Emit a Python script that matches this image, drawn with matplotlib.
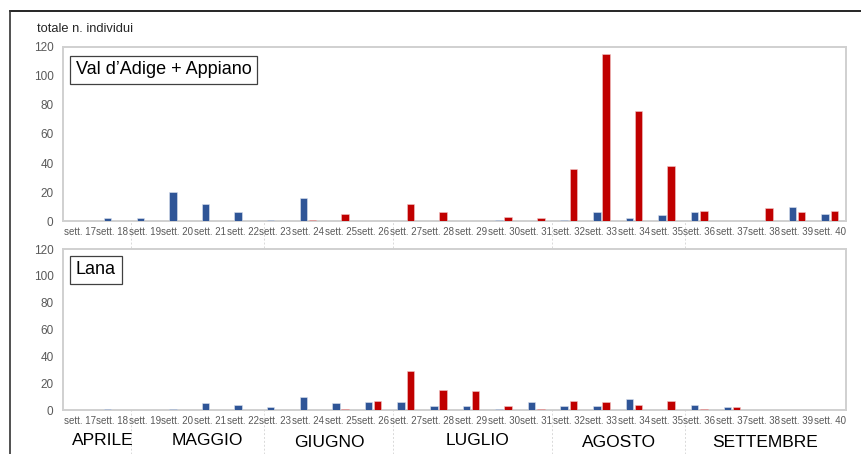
import matplotlib.pyplot as plt
import matplotlib.transforms as mtransforms
import numpy as np

plt.rcParams['font.family'] = ['Liberation Sans', 'DejaVu Sans']

# weeks 17..40
weeks = list(range(17, 41))
week_labels = ["sett. %d" % w for w in weeks]

# Val d'Adige + Appiano
top_blue = [0, 2, 2, 20, 12, 6, 1, 16, 0, 0, 0, 0, 0, 1, 0, 1, 6, 2, 4, 6, 0, 0, 10, 5]
top_red = [0, 0, 0, 0, 0, 0, 0, 1, 5, 0, 12, 6, 0, 3, 2, 36, 115, 76, 38, 7, 0, 9, 6, 7]

# Lana
bot_blue = [0, 1, 0, 1, 5, 4, 2, 10, 5, 6, 6, 3, 3, 1, 6, 3, 3, 8, 0, 4, 2, 0, 0, 0]
bot_red = [0, 0, 0, 0, 0, 0, 0, 0, 1, 7, 29, 15, 14, 3, 1, 7, 6, 4, 7, 1, 2, 0, 0, 0]

months = ["APRILE", "MAGGIO", "GIUGNO", "LUGLIO", "AGOSTO", "SETTEMBRE"]
month_lines = [18.57, 22.65, 26.6, 31.5, 35.55]

blue = "#2F5597"
red = "#C00000"
grey_txt = "#595959"

fig = plt.figure(figsize=(8.61, 4.54), dpi=100)
ax1 = fig.add_axes([0.0735, 0.5132, 0.9091, 0.3833])
ax2 = fig.add_axes([0.0735, 0.0969, 0.9091, 0.3546])

x = np.array(weeks)
for ax, b, r, name, box_y in [(ax1, top_blue, top_red, "Val d\u2019Adige + Appiano", 0.868),
                              (ax2, bot_blue, bot_red, "Lana", 0.87)]:
    ax.bar(x - 0.14, b, width=0.23, color=blue, edgecolor="#dde3ee", linewidth=0.4, zorder=3)
    ax.bar(x + 0.14, r, width=0.23, color=red, edgecolor="#f0c8c8", linewidth=0.4, zorder=3)
    ax.set_xlim(16.5, 40.5)
    ax.set_ylim(0, 120)
    ax.set_yticks(range(0, 121, 20))
    ax.set_xticks(weeks)
    ax.set_xticklabels(week_labels, fontsize=7, color=grey_txt)
    ax.tick_params(axis="y", labelsize=8.5, labelcolor=grey_txt, length=0, pad=7)
    ax.tick_params(axis="x", length=0, pad=4)
    for s in ax.spines.values():
        s.set_color("#d0d0d0")
        s.set_linewidth(1.4)
    ax.text(0.016, box_y, name, transform=ax.transAxes, fontsize=13, color="black",
            ha="left", va="center",
            bbox=dict(boxstyle="square,pad=0.32", facecolor="white", edgecolor="#404040", linewidth=0.9))

# month boundary lines running across both panels
trans = mtransforms.blended_transform_factory(ax1.transData, fig.transFigure)
for m in month_lines:
    fig.add_artist(plt.Line2D([m, m], [0.0, 0.8965], transform=trans, color="#d9d9d9",
                              linestyle=(0, (2, 2)), linewidth=0.7, zorder=0))

month_x = [17.72, 20.93, 24.67, 29.19, 33.53, 38.03]
month_y = [0.030, 0.030, 0.026, 0.030, 0.026, 0.026]
trans_m = mtransforms.blended_transform_factory(ax2.transData, fig.transFigure)
for name, mx, my in zip(months, month_x, month_y):
    fig.text(mx, my, name, transform=trans_m, fontsize=12.5, ha="center", va="center", color="black")

fig.text(0.043, 0.936, "totale n. individui", fontsize=9.3, ha="left", va="center", color="#262626")

# outer chart frame
fig.add_artist(plt.Line2D([0.0116, 1.0], [0.975, 0.975], transform=fig.transFigure, color="black", linewidth=1.2))
fig.add_artist(plt.Line2D([0.0116, 0.0116], [0.0, 0.975], transform=fig.transFigure, color="#333333", linewidth=1.2))

plt.savefig("out.png", dpi=100)
